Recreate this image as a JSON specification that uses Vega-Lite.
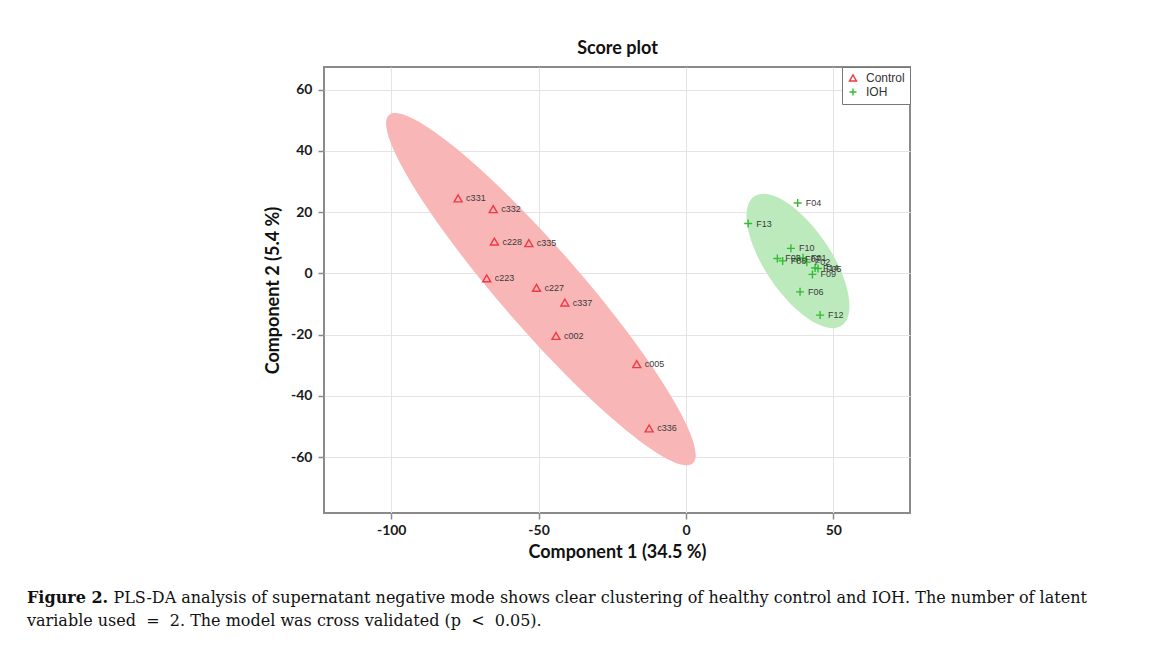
{
  "$schema": "https://vega.github.io/schema/vega-lite/v6.json",
  "width": 586,
  "height": 446,
  "autosize": "none",
  "padding": {"left": 324, "top": 67, "right": 243, "bottom": 144},
  "background": "white",
  "title": {
    "text": "Figure 2.",
    "subtitle": [
      "\u200b\u00a0\u00a0\u00a0\u00a0\u00a0\u00a0\u00a0\u00a0\u00a0\u00a0\u00a0\u00a0\u00a0\u00a0\u00a0\u00a0\u00a0PLS-DA analysis of supernatant negative mode shows clear clustering of healthy control and IOH. The number of latent",
      "variable used \u00a0=\u00a0 2. The model was cross validated (p \u00a0<\u00a0 0.05)."
    ],
    "orient": "bottom",
    "anchor": "start",
    "frame": "group",
    "dx": -297,
    "offset": 29,
    "font": "DejaVu Serif",
    "fontSize": 16,
    "fontWeight": "bold",
    "color": "#111111",
    "subtitleFont": "DejaVu Serif",
    "subtitleFontSize": 16,
    "subtitleFontWeight": "normal",
    "subtitleColor": "#111111",
    "subtitlePadding": -16,
    "subtitleLineHeight": 23
  },
  "datasets": {
    "scores": [
      {"label": "c331", "group": "Control", "x": -77.3, "y": 24.5},
      {"label": "c332", "group": "Control", "x": -65.4, "y": 21.0},
      {"label": "c228", "group": "Control", "x": -65.0, "y": 10.4},
      {"label": "c335", "group": "Control", "x": -53.3, "y": 9.9},
      {"label": "c223", "group": "Control", "x": -67.6, "y": -1.6},
      {"label": "c227", "group": "Control", "x": -50.7, "y": -4.7},
      {"label": "c337", "group": "Control", "x": -41.1, "y": -9.5},
      {"label": "c002", "group": "Control", "x": -44.1, "y": -20.4},
      {"label": "c005", "group": "Control", "x": -16.7, "y": -29.6},
      {"label": "c336", "group": "Control", "x": -12.5, "y": -50.6},
      {"label": "F04", "group": "IOH", "x": 37.9, "y": 23.0},
      {"label": "F13", "group": "IOH", "x": 21.1, "y": 16.3},
      {"label": "F10", "group": "IOH", "x": 35.6, "y": 8.2},
      {"label": "F03", "group": "IOH", "x": 31.0, "y": 4.9},
      {"label": "F08", "group": "IOH", "x": 32.8, "y": 4.1},
      {"label": "F07", "group": "IOH", "x": 37.7, "y": 4.8},
      {"label": "F01", "group": "IOH", "x": 39.7, "y": 5.1},
      {"label": "F02", "group": "IOH", "x": 41.0, "y": 3.7},
      {"label": "F14", "group": "IOH", "x": 43.8, "y": 1.8},
      {"label": "F05", "group": "IOH", "x": 44.8, "y": 1.6},
      {"label": "F09", "group": "IOH", "x": 42.9, "y": -0.3},
      {"label": "F06", "group": "IOH", "x": 38.7, "y": -6.0},
      {"label": "F12", "group": "IOH", "x": 45.5, "y": -13.6}
    ],
    "ellipses": [
      {"group": "Control", "x": -49.2, "y": -5.1},
      {"group": "IOH", "x": 38.0, "y": 4.1}
    ]
  },
  "config": {
    "view": {"stroke": "#8a8a8a", "strokeWidth": 2},
    "axis": {
      "domain": false,
      "gridColor": "#e4e4e4",
      "gridWidth": 1,
      "tickColor": "#8a8a8a",
      "tickSize": 6,
      "tickWidth": 1.5,
      "labelFont": "Lato",
      "labelFontSize": 14,
      "labelFontWeight": "bold",
      "labelColor": "#1a1a1a",
      "titleFont": "Lato",
      "titleFontSize": 18,
      "titleFontWeight": "bold",
      "titleColor": "#111111"
    }
  },
  "resolve": {"axis": {"x": "independent"}},
  "layer": [
    {
      "data": {"name": "ellipses"},
      "transform": [{"filter": "datum.group === 'Control'"}],
      "mark": {
        "type": "point",
        "filled": true,
        "opacity": 1,
        "color": "#f9b6b7",
        "shape": "M1,0C1,0.0957 0.5523,0.1732 0,0.1732C-0.5523,0.1732 -1,0.0957 -1,0C-1,-0.0957 -0.5523,-0.1732 0,-0.1732C0.5523,-0.1732 1,-0.0957 1,0Z",
        "size": 213444,
        "angle": 48.9
      },
      "encoding": {
        "x": {
          "field": "x", "type": "quantitative",
          "scale": {"domain": [-122.8, 76], "nice": false, "zero": false},
          "axis": {
            "values": [-100, -50, 0, 50],
            "title": "Component 1 (34.5 %)",
            "labelExpr": "replace(datum.label, '\u2212', '-')",
            "labelPadding": 4,
            "titlePadding": 6
          }
        },
        "y": {
          "field": "y", "type": "quantitative",
          "scale": {"domain": [-78.2, 67.4], "nice": false, "zero": false},
          "axis": {
            "values": [-60, -40, -20, 0, 20, 40, 60],
            "title": "Component 2 (5.4 %)",
            "labelExpr": "replace(datum.label, '\u2212', '-')",
            "labelPadding": 6,
            "titlePadding": 8
          }
        }
      }
    },
    {
      "data": {"name": "ellipses"},
      "transform": [{"filter": "datum.group === 'IOH'"}],
      "mark": {
        "type": "point",
        "filled": true,
        "opacity": 1,
        "color": "#bdeabd",
        "shape": "M1,0C1,0.2336 0.5523,0.423 0,0.423C-0.5523,0.423 -1,0.2336 -1,0C-1,-0.2336 -0.5523,-0.423 0,-0.423C0.5523,-0.423 1,-0.2336 1,0Z",
        "size": 24336,
        "angle": 56
      },
      "encoding": {
        "x": {"field": "x", "type": "quantitative", "axis": null},
        "y": {"field": "y", "type": "quantitative"}
      }
    },
    {
      "data": {"name": "scores"},
      "mark": {"type": "point", "filled": false, "opacity": 1, "strokeWidth": 1.4, "size": 64},
      "encoding": {
        "x": {"field": "x", "type": "quantitative", "axis": null},
        "y": {"field": "y", "type": "quantitative"},
        "shape": {
          "field": "group", "type": "nominal",
          "scale": {"domain": ["Control", "IOH"], "range": ["triangle-up", "M-1,0L1,0M0,-1L0,1"]},
          "legend": {
            "title": null, "orient": "top-right", "offset": 0, "padding": 5,
            "strokeColor": "#777777", "fillColor": "white",
            "labelFont": "Liberation Sans", "labelFontSize": 12, "labelColor": "#333333",
            "symbolSize": 50, "symbolStrokeWidth": 1.4, "rowPadding": 1, "labelOffset": 7
          }
        },
        "color": {
          "field": "group", "type": "nominal",
          "scale": {"domain": ["Control", "IOH"], "range": ["#ee3a45", "#33bb33"]},
          "legend": {
            "title": null, "orient": "top-right", "offset": 0, "padding": 5,
            "strokeColor": "#777777", "fillColor": "white",
            "labelFont": "Liberation Sans", "labelFontSize": 12, "labelColor": "#333333",
            "symbolSize": 50, "symbolStrokeWidth": 1.4, "rowPadding": 1, "labelOffset": 7
          }
        }
      }
    },
    {
      "data": {"name": "scores"},
      "mark": {"type": "text", "align": "left", "baseline": "middle", "dx": 8, "fontSize": 9, "font": "Liberation Sans", "color": "#3a3a3a"},
      "encoding": {
        "x": {
          "field": "x", "type": "quantitative",
          "axis": {"orient": "top", "title": "Score plot", "labels": false, "ticks": false, "grid": false, "domain": false, "titleFontSize": 18, "titlePadding": 10}
        },
        "y": {"field": "y", "type": "quantitative"},
        "text": {"field": "label"}
      }
    }
  ]
}
